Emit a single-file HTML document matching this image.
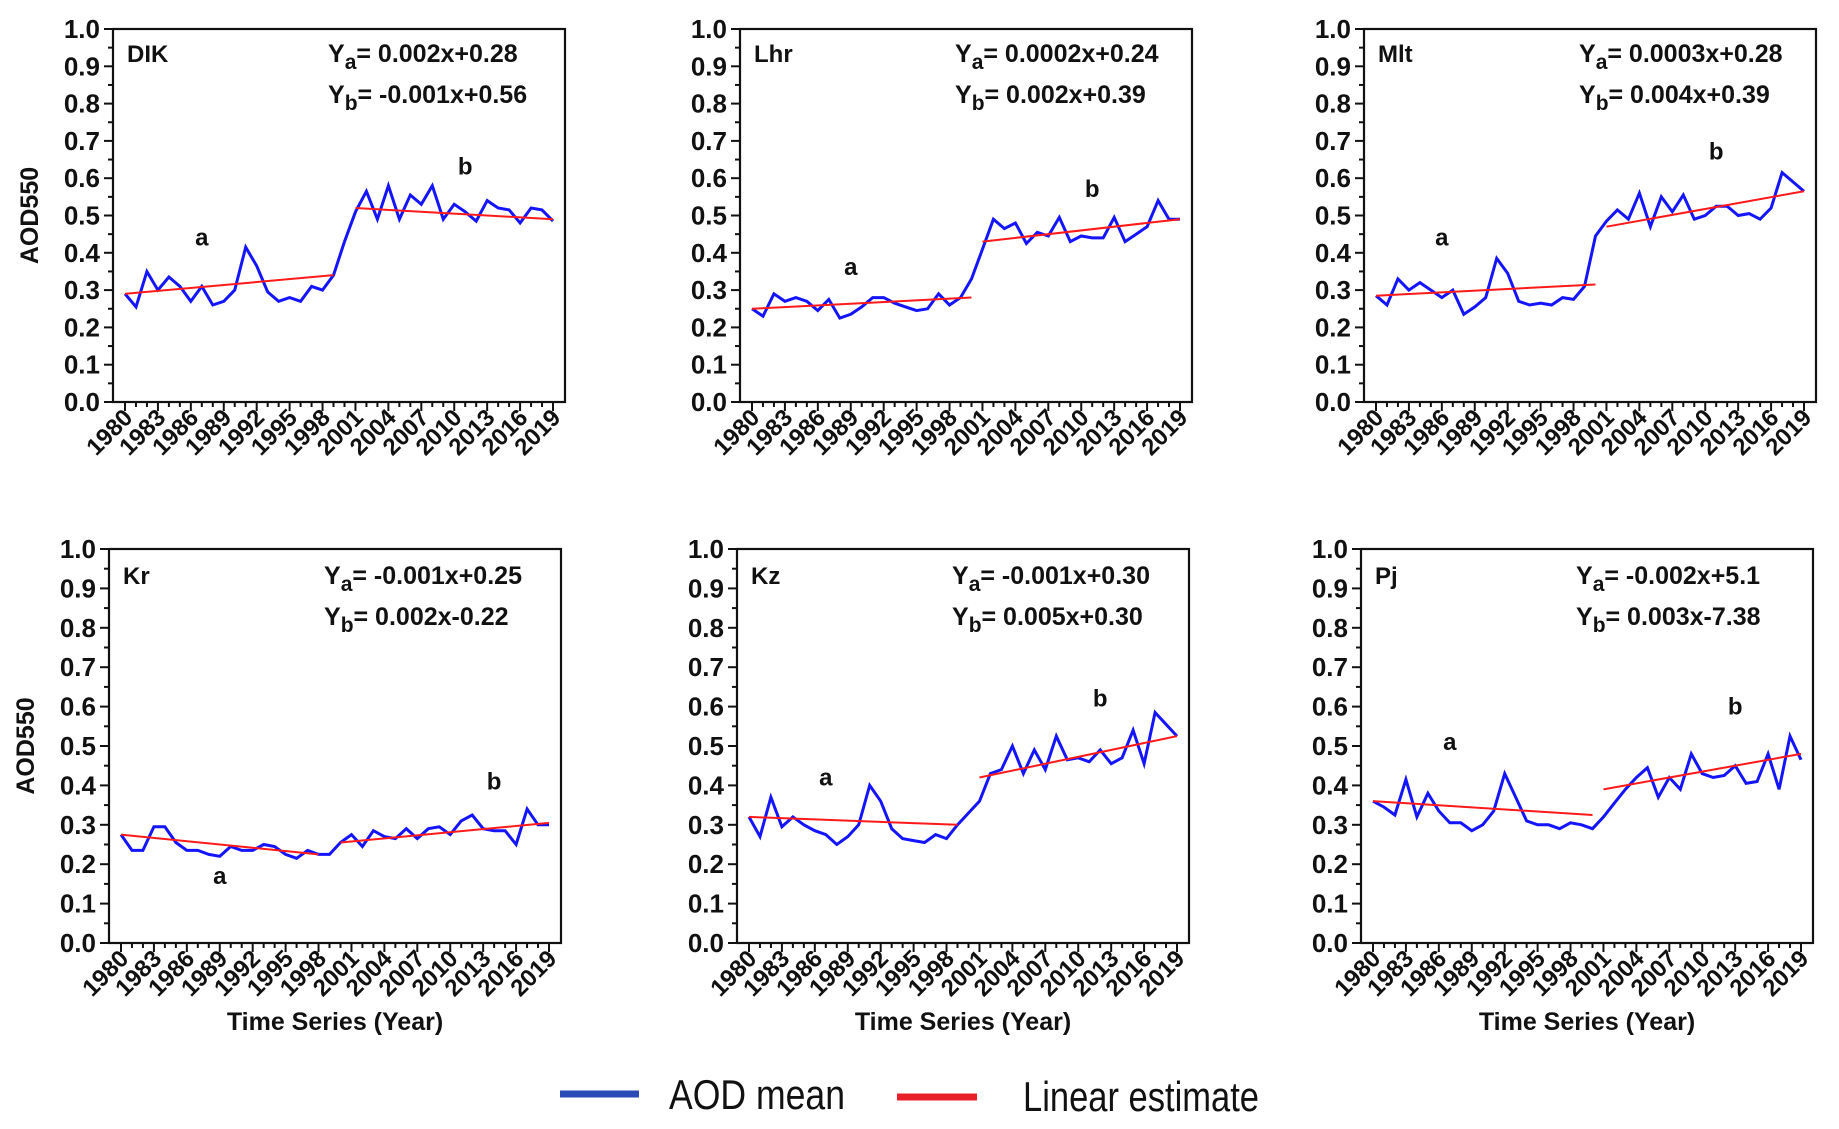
<!DOCTYPE html>
<html><head><meta charset="utf-8"><style>
body{margin:0;background:#fff;width:1839px;height:1129px;overflow:hidden}
svg{display:block}
text{font-family:"Liberation Sans",Arial,sans-serif;font-weight:bold;fill:#111}
</style></head><body>
<svg id="s" width="1839" height="1129" xmlns="http://www.w3.org/2000/svg"></svg>
<script>
const panels=[
{x:113,y:29,h:373,name:"DIK",ea:"0.002x+0.28",eb:"-0.001x+0.56",
d:[.29,.255,.35,.30,.335,.31,.27,.31,.26,.27,.30,.415,.365,.295,.27,.28,.27,.31,.30,.34,.43,.51,.565,.49,.58,.49,.555,.53,.58,.49,.53,.51,.485,.54,.52,.515,.48,.52,.515,.485],
ra:[1980,.29,1999,.34],rb:[2001,.52,2019,.49],la:[1987,.42],lb:[2011,.61]},
{x:740,y:29,h:373,name:"Lhr",ea:"0.0002x+0.24",eb:"0.002x+0.39",
d:[.25,.23,.29,.27,.28,.27,.245,.275,.225,.235,.255,.28,.28,.265,.255,.245,.25,.29,.26,.28,.33,.41,.49,.465,.48,.425,.455,.445,.495,.43,.445,.44,.44,.495,.43,.45,.47,.54,.49,.49],
ra:[1980,.25,2000,.28],rb:[2001,.43,2019,.49],la:[1989,.34],lb:[2011,.55]},
{x:1364,y:29,h:373,name:"Mlt",ea:"0.0003x+0.28",eb:"0.004x+0.39",
d:[.285,.26,.33,.30,.32,.30,.28,.30,.235,.255,.28,.385,.345,.27,.26,.265,.26,.28,.275,.31,.445,.485,.515,.49,.56,.47,.55,.51,.555,.49,.50,.525,.525,.50,.505,.49,.52,.615,.59,.565],
ra:[1980,.285,2000,.315],rb:[2001,.47,2019,.565],la:[1986,.42],lb:[2011,.65]},
{x:109,y:549,h:394,name:"Kr",ea:"-0.001x+0.25",eb:"0.002x-0.22",
d:[.275,.235,.235,.295,.295,.255,.235,.235,.225,.22,.245,.235,.235,.25,.245,.225,.215,.235,.225,.225,.255,.275,.245,.285,.27,.265,.29,.265,.29,.295,.275,.31,.325,.29,.285,.285,.25,.34,.30,.30],
ra:[1980,.275,1998,.225],rb:[2000,.255,2019,.305],la:[1989,.15],lb:[2014,.39]},
{x:737,y:549,h:394,name:"Kz",ea:"-0.001x+0.30",eb:"0.005x+0.30",
d:[.32,.27,.37,.295,.32,.30,.285,.275,.25,.27,.30,.40,.36,.29,.265,.26,.255,.275,.265,.30,.33,.36,.43,.44,.50,.43,.49,.44,.525,.465,.47,.46,.49,.455,.47,.54,.455,.585,.555,.525],
ra:[1980,.32,1999,.30],rb:[2001,.42,2019,.525],la:[1987,.40],lb:[2012,.60]},
{x:1361,y:549,h:394,name:"Pj",ea:"-0.002x+5.1",eb:"0.003x-7.38",
d:[.36,.345,.325,.415,.32,.38,.335,.305,.305,.285,.30,.335,.43,.37,.31,.30,.30,.29,.305,.30,.29,.32,.355,.39,.42,.445,.37,.42,.39,.48,.43,.42,.425,.45,.405,.41,.48,.39,.525,.465],
ra:[1980,.36,2000,.325],rb:[2001,.39,2019,.48],la:[1987,.49],lb:[2013,.58]}
];
const W=452;let o="";
panels.forEach((p,i)=>{
 const X=yr=>p.x+12+(yr-1980)*(W-24)/39, Y=v=>p.y+p.h-v*p.h;
 const bot=p.y+p.h;
 o+=`<rect x="${p.x}" y="${p.y}" width="${W}" height="${p.h}" fill="none" stroke="#111" stroke-width="2.2"/>`;
 for(let k=0;k<=20;k++){const yy=Y(k*0.05);const L=k%2?5:9;o+=`<line x1="${p.x-L}" x2="${p.x}" y1="${yy}" y2="${yy}" stroke="#111" stroke-width="2"/>`;
  if(k%2==0)o+=`<text x="${p.x-13}" y="${yy+9}" font-size="26" text-anchor="end">${(k/20).toFixed(1)}</text>`;}
 for(let yr=1980;yr<=2019;yr++){const xx=X(yr);const maj=(yr-1980)%3==0||yr==2019;
  o+=`<line x1="${xx}" x2="${xx}" y1="${bot}" y2="${bot+(maj?9:5)}" stroke="#111" stroke-width="2"/>`;
  if(maj)o+=`<text transform="translate(${xx+9},${bot+17}) rotate(-45)" font-size="24" text-anchor="end">${yr}</text>`;}
 let pts=p.d.map((v,k)=>X(1980+k).toFixed(1)+","+Y(v).toFixed(1)).join(" ");
 o+=`<polyline points="${pts}" fill="none" stroke="#1414ff" stroke-width="3"/>`;
 [p.ra,p.rb].forEach(r=>o+=`<line x1="${X(r[0])}" y1="${Y(r[1])}" x2="${X(r[2])}" y2="${Y(r[3])}" stroke="#ff1a1a" stroke-width="2"/>`);
 o+=`<text x="${X(p.la[0])}" y="${Y(p.la[1])}" font-size="24" text-anchor="middle">a</text>`;
 o+=`<text x="${X(p.lb[0])}" y="${Y(p.lb[1])}" font-size="24" text-anchor="middle">b</text>`;
 const ty=p.y+(i<3?33:35);
 o+=`<text x="${p.x+14}" y="${ty}" font-size="24">${p.name}</text>`;
 o+=`<text x="${p.x+215}" y="${ty}" font-size="25">Y<tspan font-size="21" dy="7">a</tspan><tspan dy="-7">= ${p.ea}</tspan></text>`;
 o+=`<text x="${p.x+215}" y="${ty+41}" font-size="25">Y<tspan font-size="21" dy="7">b</tspan><tspan dy="-7">= ${p.eb}</tspan></text>`;
 if(i%3==0)o+=`<text transform="translate(${p.x-75},${p.y+p.h/2}) rotate(-90)" font-size="25" text-anchor="middle">AOD550</text>`;
 if(i>=3)o+=`<text x="${p.x+W/2}" y="1030" font-size="25" text-anchor="middle">Time Series (Year)</text>`;
});
o+=`<line x1="560" x2="639" y1="1094" y2="1094" stroke="#2a4bb8" stroke-width="7"/>`;
o+=`<text x="669" y="1109" font-size="42" style="font-family:'Liberation Sans Narrow','Liberation Sans',sans-serif;font-weight:normal" textLength="176" lengthAdjust="spacingAndGlyphs">AOD mean</text>`;
o+=`<line x1="897" x2="977" y1="1097" y2="1097" stroke="#e8202a" stroke-width="7"/>`;
o+=`<text x="1023" y="1111" font-size="42" style="font-family:'Liberation Sans Narrow','Liberation Sans',sans-serif;font-weight:normal" textLength="236" lengthAdjust="spacingAndGlyphs">Linear estimate</text>`;
document.getElementById("s").innerHTML=o;
</script>
</body></html>
